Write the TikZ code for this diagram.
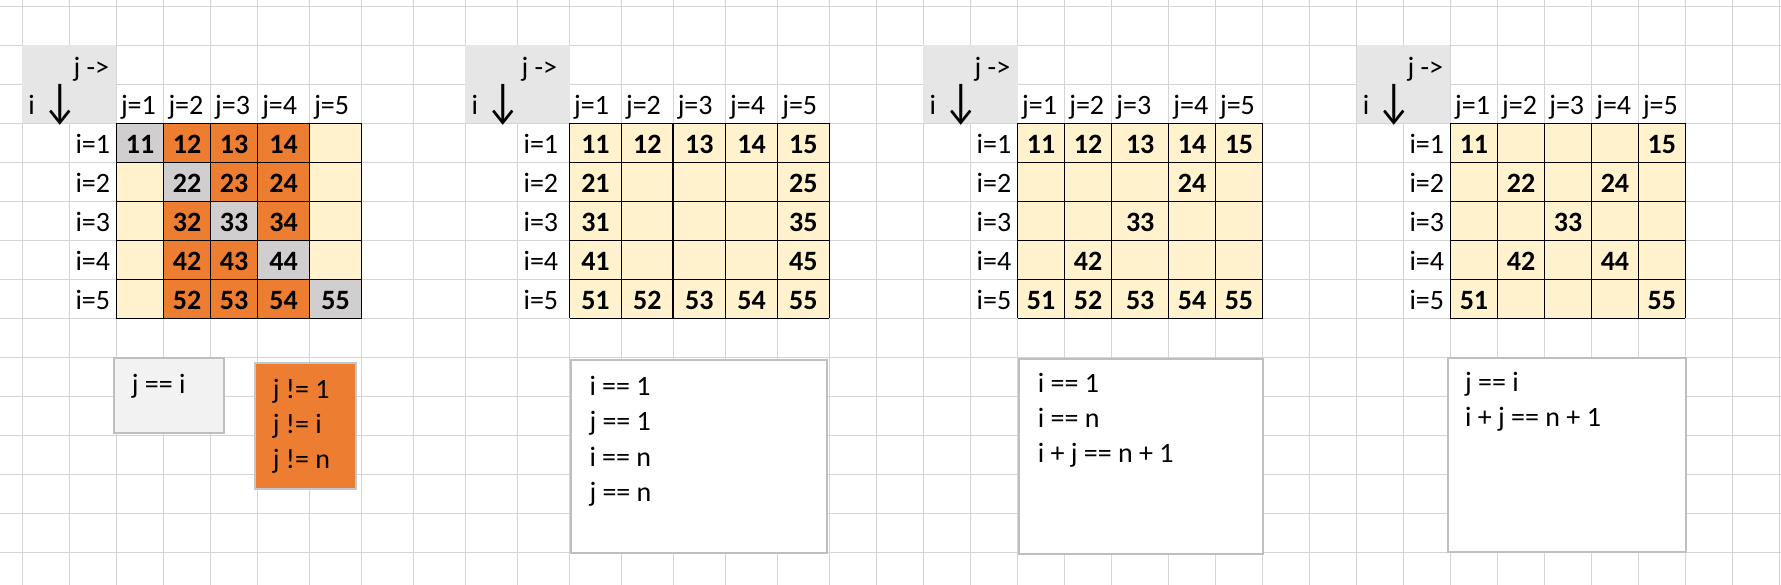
\documentclass[tikz,border=0pt]{standalone}
\usepackage{fontspec}
\setmainfont{Carlito}
\newcommand\tam{\fontsize{28}{35}\selectfont}

\begin{document}
\begin{tikzpicture}[x=1pt,y=-1pt,font=\tam,
		texto/.style={anchor=base west, inner sep=0},
		num/.style={anchor=base, inner sep=0, font=\tam\bfseries},
		flecha/.style={anchor=base west, inner sep=0},
		celda/.style={line width=1.3pt},
		caja/.style={draw=borde, line width=2pt, anchor=north west, inner sep=0}]
	%%% Colores
	\definecolor{rejilla}{RGB}{212,212,212}   % líneas de la hoja
	\definecolor{cabecera}{RGB}{231,230,230}  % esquina j -> / i
	\definecolor{crema}{RGB}{255,242,204}
	\definecolor{naranja}{RGB}{237,125,49}
	\definecolor{gris}{RGB}{208,206,206}
	\definecolor{cajagris}{RGB}{242,242,242}
	\definecolor{borde}{RGB}{191,191,191}
	\definecolor{bordeazul}{RGB}{190,200,208}
	\def\colx{{22.2,69.3,116.3,163.8,210.5,257.6,309.6,361.7,413.3,465.4,517.4,569.5,621.4,673.1,725.5,777.6,829.2,876.3,923.4,970.5,1017.5,1064.6,1111.7,1168.7,1215.4,1262.5,1309.6,1356.7,1403.3,1450.4,1497.5,1544.6,1591.6,1638.3,1685.4,1732.5,1779.5}}
	\def\filah{39}
	\def\ytab{123.3}

	\useasboundingbox (0,0) rectangle (1781,585);
	\fill[white] (0,0) rectangle (1781,585);

	%%% Rejilla de la hoja
	\foreach \k in {0,...,36} {
		\pgfmathsetmacro\x{\colx[\k]}
		\draw[rejilla, line width=1pt] (\x,0) -- (\x,585);
	}
	\foreach \r in {0,...,14} {
		\draw[rejilla, line width=1pt] (0,{6.3+\filah*\r}) -- (1781,{6.3+\filah*\r});
	}

	%%% Tablas: número / primera columna / celdas con número / color
	\foreach \t/\b/\ver/\tono in {
			1/0/{((\i==\j)+(\j>1)*(\j<5))>0}/{2*(\i==\j)+(\i!=\j)*(\j>1)*(\j<5)},
			2/9/{((\i==1)+(\j==1)+(\i==5)+(\j==5))>0}/0,
			3/18/{((\i==1)+(\i==5)+((\i+\j)==6))>0}/0,
			4/27/{((\i==\j)+((\i+\j)==6))>0}/0} {
		\pgfmathtruncatemacro\bm{\b+1}
		\pgfmathtruncatemacro\bt{\b+2}
		\pgfmathtruncatemacro\bfin{\b+7}
		\pgfmathsetmacro\xh{\colx[\b]}
		\pgfmathsetmacro\xm{\colx[\bm]}
		\pgfmathsetmacro\xt{\colx[\bt]}
		\pgfmathsetmacro\xf{\colx[\bfin]}

		% Esquina gris
		\fill[cabecera] (\xh,45.3) rectangle (\xt,\ytab);
		\node[texto] (jdir\t) at ({\xm+4},77) {j ->};
		\node[texto] (idir\t) at ({\xh+6},115) {i};
		\node[flecha] (flecha\t) at ({\xh+20},118) {\scalebox{1.4}[1.75]{↓}};

		\foreach \j in {1,...,5} {
			\pgfmathtruncatemacro\ka{\b+1+\j}
			\pgfmathsetmacro\xa{\colx[\ka]}
			\node[texto] (jcol\t-\j) at ({\xa+4.5},115) {j=\j};
		}

		\foreach \i in {1,...,5} {
			\pgfmathsetmacro\ya{\ytab+\filah*(\i-1)}
			\node[texto] (ifila\t-\i) at ({\xm+6},{\ya+30}) {i=\i};

			\foreach \j in {1,...,5} {
				\pgfmathtruncatemacro\ka{\b+1+\j}
				\pgfmathtruncatemacro\kb{\b+2+\j}
				\pgfmathsetmacro\xa{\colx[\ka]}
				\pgfmathsetmacro\xb{\colx[\kb]}
				\pgfmathtruncatemacro\mostrar{\ver}
				\pgfmathtruncatemacro\cc{\tono}
				% Diagonal en gris, columnas interiores en naranja
				\ifcase\cc \def\relleno{crema}\or \def\relleno{naranja}\or \def\relleno{gris}\fi
				\fill[\relleno] (\xa,\ya) rectangle (\xb,{\ya+\filah});
				\ifnum\mostrar=1
				\node[num] (c\t-\i\j) at ({(\xa+\xb)/2},{\ya+30}) {\i\j};
				\fi
			}
		}

		% Bordes de las celdas
		\foreach \k in {0,...,5} {
			\pgfmathtruncatemacro\ka{\b+2+\k}
			\pgfmathsetmacro\xa{\colx[\ka]}
			\draw[celda] (\xa,\ytab) -- (\xa,{\ytab+5*\filah});
			\draw[celda] (\xt,{\ytab+\filah*\k}) -- (\xf,{\ytab+\filah*\k});
		}
	}

	%%% Cajas con las condiciones
	\node[caja, fill=cajagris, minimum width=110pt, minimum height=75.6pt] (cajaA) at (112.7,356.7) {};
	\node[caja, draw=bordeazul, fill=naranja, minimum width=101pt, minimum height=126.3pt] (cajaB) at (254,362) {};
	\node[caja, fill=white, minimum width=256pt, minimum height=192.7pt] (cajaC) at (570,359) {};
	\node[caja, fill=white, minimum width=244pt, minimum height=195.3pt] (cajaD) at (1018,357.7) {};
	\node[caja, fill=white, minimum width=238.3pt, minimum height=193.7pt] (cajaE) at (1446.7,357.3) {};

	\def\condA{j == i}
	\def\condB{j != 1,j != i,j != n}
	\def\condC{i == 1,j == 1,i == n,j == n}
	\def\condD{i == 1,i == n,i + j == n + 1}
	\def\condE{j == i,i + j == n + 1}
	\foreach \cj/\x/\y in {A/131.7/393.3, B/272.7/398.3, C/589.3/395.7, D/1037.7/392.3, E/1465/391.7} {
		\expandafter\let\expandafter\lineas\csname cond\cj\endcsname
		\foreach \linea [count=\k] in \lineas {
			\node[texto] (cond\cj-\k) at (\x,{\y+35.2*(\k-1)}) {\linea};
		}
	}
\end{tikzpicture}
\end{document}
